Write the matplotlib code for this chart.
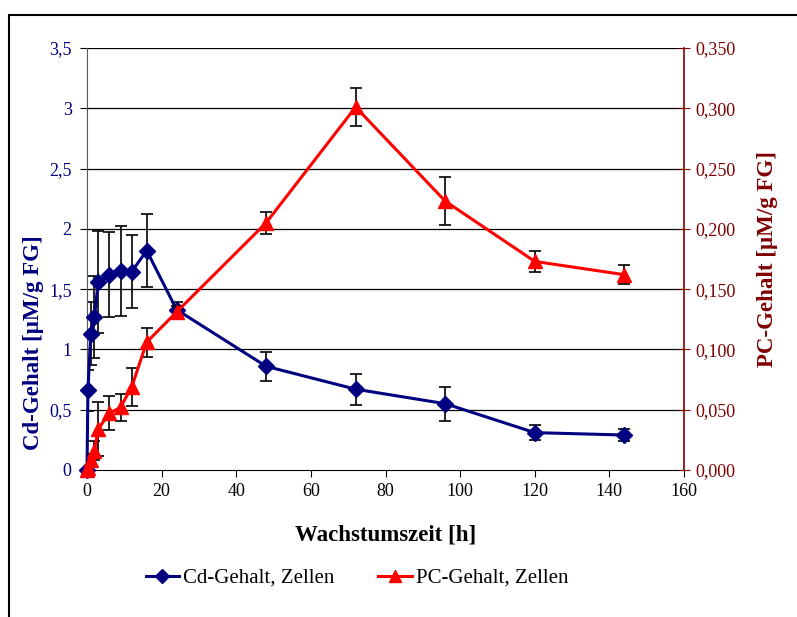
import matplotlib
matplotlib.use("Agg")
import matplotlib.pyplot as plt
from matplotlib.patches import Rectangle
from matplotlib.lines import Line2D
from matplotlib.ticker import FuncFormatter

plt.rcParams["font.family"] = ["Liberation Serif", "DejaVu Serif"]

NAVY = "#000080"
DARKRED = "#800000"

# Wachstumszeit [h]
cd_time = [0, 0.25, 1, 2, 3, 6, 9, 12, 16, 24, 48, 72, 96, 120, 144]
cd_value = [0.0, 0.66, 1.13, 1.27, 1.56, 1.62, 1.65, 1.645, 1.82, 1.33, 0.86, 0.67, 0.55, 0.31, 0.29]
cd_err = [0.13, 0.17, 0.26, 0.34, 0.42, 0.35, 0.37, 0.30, 0.30, 0.06, 0.12, 0.13, 0.14, 0.06, 0.05]

pc_time = [0, 0.25, 1, 2, 3, 6, 9, 12, 16, 24, 48, 72, 96, 120, 144]
pc_value = [0.0, 0.002, 0.008, 0.016, 0.034, 0.047, 0.052, 0.069, 0.106, 0.131, 0.205, 0.301, 0.223, 0.173, 0.162]
pc_err = [0.002, 0.004, 0.005, 0.008, 0.022, 0.014, 0.011, 0.016, 0.012, 0.005, 0.009, 0.016, 0.020, 0.009, 0.008]

left_ticks = [0, 0.5, 1, 1.5, 2, 2.5, 3, 3.5]
right_ticks = [0, 0.05, 0.1, 0.15, 0.2, 0.25, 0.3, 0.35]
x_ticks = [0, 20, 40, 60, 80, 100, 120, 140, 160]


def comma_fmt(v, pos):
    s = f"{v:g}"
    return s.replace(".", ",")


def comma_fmt3(v, pos):
    return f"{v:.3f}".replace(".", ",")


fig = plt.figure(figsize=(7.97, 6.17), dpi=100)
ax = fig.add_axes([87 / 797, 1 - 470 / 617, (684 - 87) / 797, (470 - 48) / 617])
ax2 = ax.twinx()

# chart frame
fig.patches.append(Rectangle((9 / 797, -0.1), 1.2, 1 - 15 / 617 + 0.1,
                             transform=fig.transFigure, fill=False,
                             edgecolor="black", linewidth=1.5))

ax.errorbar(cd_time, cd_value, yerr=cd_err, fmt="none", ecolor="black",
            elinewidth=1.2, capsize=4, capthick=1.2, zorder=2)
ax.plot(cd_time, cd_value, color=NAVY, linewidth=2.2, marker="D",
        markersize=8, zorder=3, clip_on=False)

ax2.errorbar(pc_time, pc_value, yerr=pc_err, fmt="none", ecolor="black",
             elinewidth=1.2, capsize=4, capthick=1.2, zorder=2)
ax2.plot(pc_time, pc_value, color="red", linewidth=2.2, marker="^",
         markersize=10, zorder=3, clip_on=False)

ax.set_xlim(0, 160)
ax.set_ylim(0, 3.5)
ax2.set_ylim(0, 0.35)
ax.set_xticks(x_ticks)
ax.set_yticks(left_ticks)
ax2.set_yticks(right_ticks)
ax.yaxis.set_major_formatter(FuncFormatter(comma_fmt))
ax2.yaxis.set_major_formatter(FuncFormatter(comma_fmt3))

for y in left_ticks[1:]:
    ax.axhline(y, color="black", linewidth=0.9, zorder=1)

ax.spines["top"].set_visible(False)
ax2.spines["top"].set_visible(False)
ax.spines["right"].set_visible(False)
ax2.spines["left"].set_visible(False)
ax2.spines["bottom"].set_visible(False)
ax.spines["left"].set_color("#555555")
ax2.spines["right"].set_color(DARKRED)
ax2.spines["right"].set_linewidth(1.2)

ax.tick_params(axis="x", direction="out", length=5, labelsize=13, pad=4)
ax.tick_params(axis="y", direction="out", length=5, labelsize=13,
               labelcolor=NAVY, pad=6)
ax2.tick_params(axis="y", direction="inout", length=8, labelsize=13,
                labelcolor=DARKRED, color=DARKRED, pad=4)

ax.set_xlabel("Wachstumszeit [h]", fontsize=16.5, fontweight="bold")
ax.xaxis.set_label_coords(0.5, -(524 - 470) / 422, transform=ax.transAxes)
ax.set_ylabel("Cd-Gehalt [µM/g FG]", fontsize=16.5, fontweight="bold",
              color=NAVY)
ax.yaxis.set_label_coords(-(87 - 44) / 597, (470 - 343) / 422)
ax2.set_ylabel("PC-Gehalt [µM/g FG]", fontsize=16.5, fontweight="bold",
               color=DARKRED)
ax2.yaxis.set_label_coords(1 + (757 - 684) / 597, (470 - 259) / 422)

handles = [
    Line2D([], [], color=NAVY, linewidth=2.2, marker="D", markersize=7),
    Line2D([], [], color="red", linewidth=2.2, marker="^", markersize=9),
]
fig.legend(handles, ["Cd-Gehalt, Zellen", "PC-Gehalt, Zellen"], loc="center",
           bbox_to_anchor=(357 / 797, 1 - 578 / 617), ncol=2, frameon=False,
           fontsize=15, handlelength=1.6, handletextpad=0.2, columnspacing=2.1)

fig.savefig("out.png", dpi=100)
